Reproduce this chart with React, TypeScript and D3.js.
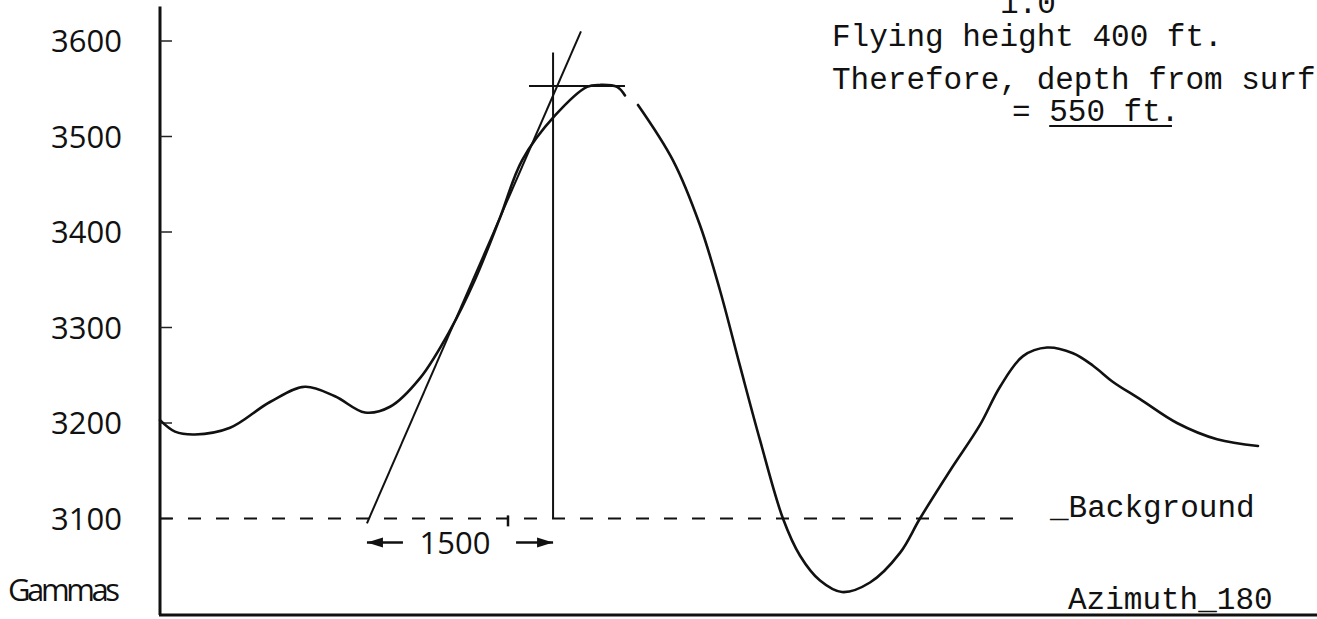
import React, { Component } from 'react';
import * as d3 from 'd3';

// Profile: distance along the line (ft) and total field (gammas)
const distances = [0, 121, 282, 565, 887, 1169, 1411, 1653, 1855, 2097, 2339, 2540, 2742, 2920, 3186, 3444, 3549, 3686, 3750, 3855, 4137, 4355, 4516, 4677, 4839, 5024, 5162, 5323, 5500, 5726, 5968, 6129, 6371, 6613, 6775, 6960, 7154, 7363, 7525, 7686, 7904, 8202, 8525, 8855];
const gammas = [3203, 3191, 3188, 3195, 3222, 3238, 3228, 3211, 3217, 3247, 3297, 3350, 3415, 3475, 3522, 3552, 3554, 3552, 3543, 3533, 3475, 3407, 3339, 3260, 3182, 3100, 3061, 3035, 3023, 3033, 3064, 3100, 3150, 3198, 3238, 3270, 3279, 3273, 3260, 3243, 3225, 3200, 3183, 3176];

const yTicks = [3100, 3200, 3300, 3400, 3500, 3600];
const background = 3100;

// construction lines
const tangent = [[1669, 3095], [3395, 3610]];
const peakLine = [[2976, 3553], [3750, 3553]];
const halfMaxLine = [[3170, 3100], [3170, 3588]];
const measure = { from: 1669, to: 3170, label: '1500', value: 3075 };
const penGap = [3750, 3855]; // small break in the pen stroke near the peak

const notes = ['Flying height 400 ft.', 'Therefore, depth from surf', '= 550 ft.'];

const handFont = '"Open Sans", "Liberation Sans", sans-serif';
const typeFont = '"Liberation Mono", "DejaVu Sans Mono", monospace';
const charW = 18.6; // advance of the typewriter font at 31px

class App extends Component {
  constructor(props) {
    super(props);
    this.state = { width: 1317, height: 619 };
    this.chartRef = React.createRef();
  }

  componentDidMount() {
    this.renderD3();
  }

  xScale() {
    return d3.scaleLinear().domain([0, 9331]).range([160, 1317]);
  }

  yScale() {
    return d3.scaleLinear().domain([3000, 3600]).range([614, 41]);
  }

  drawAxis(svg) {
    const x = this.xScale();
    const y = this.yScale();

    svg.append('line')
      .attr('x1', x(0)).attr('x2', x(0))
      .attr('y1', y(3636)).attr('y2', y(3000) + 1)
      .attr('stroke', '#111').attr('stroke-width', 3);

    svg.append('line')
      .attr('x1', x(0) - 1).attr('x2', 1317)
      .attr('y1', y(3000) + 1).attr('y2', y(3000) + 1)
      .attr('stroke', '#111').attr('stroke-width', 3);

    svg.selectAll('.tick')
      .data(yTicks)
      .enter()
      .append('line')
      .attr('class', 'tick')
      .attr('x1', x(0)).attr('x2', x(0) + 12)
      .attr('y1', d => y(d)).attr('y2', d => y(d))
      .attr('stroke', '#222').attr('stroke-width', 1.5);

    svg.selectAll('.tick-label')
      .data(yTicks)
      .enter()
      .append('text')
      .attr('class', 'tick-label')
      .attr('x', 122)
      .attr('y', d => y(d))
      .attr('dy', '0.36em')
      .attr('text-anchor', 'end')
      .attr('fill', '#111')
      .style('font-family', handFont)
      .style('font-size', '31px')
      .text(d => d);

    svg.append('text')
      .attr('x', 8)
      .attr('y', 601)
      .attr('textLength', 112)
      .attr('fill', '#111')
      .style('font-family', handFont)
      .style('font-size', '31px')
      .text('Gammas');
  }

  drawCurve(svg) {
    const x = this.xScale();
    const y = this.yScale();
    const data = distances.map((d, i) => ({ d, v: gammas[i] }));

    const line = d3.line()
      .x(p => x(p.d))
      .y(p => y(p.v))
      .curve(d3.curveCatmullRom.alpha(0.5));

    const parts = [data.filter(p => p.d <= penGap[0]), data.filter(p => p.d >= penGap[1])];

    svg.selectAll('.profile')
      .data(parts)
      .enter()
      .append('path')
      .attr('class', 'profile')
      .attr('d', line)
      .attr('fill', 'none')
      .attr('stroke', '#111')
      .attr('stroke-width', 2.6)
      .attr('stroke-linecap', 'round');
  }

  drawConstruction(svg) {
    const x = this.xScale();
    const y = this.yScale();

    svg.append('line')
      .attr('x1', x(0)).attr('x2', x(6976))
      .attr('y1', y(background)).attr('y2', y(background))
      .attr('stroke', '#111').attr('stroke-width', 2)
      .attr('stroke-dasharray', '13,15');

    [tangent, peakLine, halfMaxLine].forEach(seg => {
      svg.append('line')
        .attr('x1', x(seg[0][0])).attr('y1', y(seg[0][1]))
        .attr('x2', x(seg[1][0])).attr('y2', y(seg[1][1]))
        .attr('stroke', '#111').attr('stroke-width', 2);
    });

    // 1500 ft measure with arrows
    const my = y(measure.value);
    const x0 = x(measure.from);
    const x1 = x(measure.to);
    svg.append('line').attr('x1', x0).attr('x2', x0 + 36).attr('y1', my).attr('y2', my)
      .attr('stroke', '#111').attr('stroke-width', 2.5);
    svg.append('line').attr('x1', x1 - 37).attr('x2', x1).attr('y1', my).attr('y2', my)
      .attr('stroke', '#111').attr('stroke-width', 2.5);
    svg.append('path')
      .attr('d', `M${x0},${my}L${x0 + 16},${my - 5}L${x0 + 16},${my + 5}Z`)
      .attr('fill', '#111');
    svg.append('path')
      .attr('d', `M${x1},${my}L${x1 - 16},${my - 5}L${x1 - 16},${my + 5}Z`)
      .attr('fill', '#111');

    svg.append('text')
      .attr('x', (x0 + x1) / 2 - 5)
      .attr('y', my)
      .attr('dy', '0.36em')
      .attr('text-anchor', 'middle')
      .attr('fill', '#111')
      .style('font-family', handFont)
      .style('font-size', '31px')
      .text(measure.label);

    // foot mark
    svg.append('line')
      .attr('x1', 508).attr('x2', 508)
      .attr('y1', my - 27).attr('y2', my - 16)
      .attr('stroke', '#111').attr('stroke-width', 2.5);
  }

  drawNotes(svg) {
    const mono = sel => sel.style('font-family', typeFont).style('font-size', '31px').attr('fill', '#111');

    svg.append('text').attr('x', 1000).attr('y', 13).call(mono).text('1.0');
    svg.append('text').attr('x', 832).attr('y', 46).call(mono).text(notes[0]);
    svg.append('text').attr('x', 832).attr('y', 89).call(mono).text(notes[1]);
    svg.append('text').attr('x', 1012).attr('y', 121).call(mono).text(notes[2]);

    // underline under "550 ft."
    svg.append('line')
      .attr('x1', 1012 + 2 * charW).attr('x2', 1012 + 8.6 * charW)
      .attr('y1', 126).attr('y2', 126)
      .attr('stroke', '#111').attr('stroke-width', 2);

    svg.append('text').attr('x', 1050).attr('y', 517).call(mono).text('_Background');
    svg.append('text').attr('x', 1068).attr('y', 609).call(mono).text('Azimuth_180');
  }

  renderD3() {
    const { width, height } = this.state;

    const svg = d3
      .select(this.chartRef.current)
      .append('svg')
      .attr('width', width)
      .attr('height', height)
      .style('display', 'block')
      .style('background', '#fff');

    this.drawAxis(svg);
    this.drawCurve(svg);
    this.drawConstruction(svg);
    this.drawNotes(svg);
  }

  render() {
    return (
      <div
        ref={this.chartRef}
        style={{ position: 'fixed', left: 0, top: 0, width: 1317, height: 619, background: '#fff' }}
      />
    );
  }
}

export default App;
